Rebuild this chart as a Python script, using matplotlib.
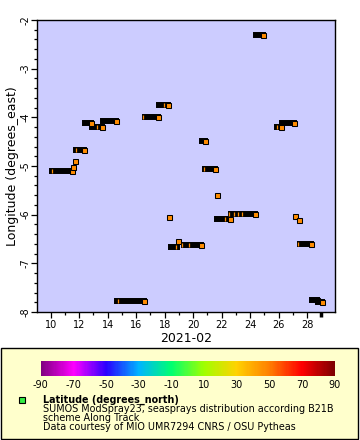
import numpy as np
import matplotlib
matplotlib.use('Agg')
import matplotlib.pyplot as plt
from matplotlib.colors import LinearSegmentedColormap, Normalize
from matplotlib.cm import ScalarMappable
from matplotlib.patches import Rectangle
from matplotlib.ticker import MultipleLocator

# track pieces: day of Feb 2021 (29 = 1 Mar), longitude, orange end marker shown
trk_start = [10.09, 11.57, 11.69, 11.78, 12.90, 12.41, 13.67, 14.66, 16.62, 17.61,
             18.31, 18.45, 18.96, 19.36, 20.63, 20.84, 21.66, 21.69, 22.66, 24.41,
             25.89, 26.24, 27.18, 27.42, 27.51, 28.35, 28.77]
trk_end = [11.50, 11.57, 11.69, 12.34, 13.60, 12.83, 14.59, 16.55, 17.53, 18.24,
           18.31, 18.90, 18.96, 20.55, 20.84, 21.54, 21.66, 22.60, 24.35, 24.91,
           26.17, 27.09, 27.18, 27.42, 28.28, 28.72, 29.05]
trk_lon = [-5.10, -5.02, -4.90, -4.67, -4.20, -4.12, -4.07, -7.77, -3.99, -3.75,
           -6.05, -6.66, -6.54, -6.62, -4.49, -5.06, -5.60, -6.09, -5.99, -2.31,
           -4.20, -4.12, -6.03, -6.11, -6.60, -7.75, -7.79]
trk_capped = [True, True, True, True, True, True, True, True, True, True,
              True, False, True, True, True, True, True, True, True, True,
              True, True, True, True, True, True, True]

# partly hidden orange markers inside the tracks
sliver_day = [10.07, 11.80, 13.27, 14.75, 16.50, 17.96, 18.82, 19.20, 19.73, 20.79,
              22.26, 22.54, 22.89, 23.17, 23.46, 25.91, 27.39]
sliver_lon = [-5.10, -4.67, -4.20, -7.77, -3.99, -3.75, -6.66, -6.62, -6.62, -5.06,
              -6.09, -5.99, -5.99, -5.99, -5.99, -4.20, -6.60]

cbar_ticks = [-90, -70, -50, -30, -10, 10, 30, 50, 70, 90]
cbar_colors = ['#7f0080', '#ff00ff', '#2a00ff', '#00b4ff', '#00ff70', '#a0ff00',
               '#ffd200', '#ff8000', '#ff0000', '#7f0000']
cbar_stops = [-90, -70, -50, -30, -10, 10, 30, 50, 70, 90]

orange = '#ff8c00'
W, H = 360, 440

fig = plt.figure(figsize=(3.6, 4.4), dpi=100)
ax = fig.add_axes([37 / W, 1 - 312 / H, 298 / W, 292 / H])
ax.set_facecolor('#ccccff')

for s, e, lon, cap in zip(trk_start, trk_end, trk_lon, trk_capped):
    if e > s:
        ax.plot([s, e], [lon, lon], color='black', lw=4.3, solid_capstyle='projecting')
    for d, l in zip(sliver_day, sliver_lon):
        if l == lon and s - 0.2 <= d <= e:
            ax.plot([d], [l], marker='|', ms=3.0, mew=0.9, color=orange, ls='none')
    if cap:
        ax.plot([e], [lon], marker='s', ms=3.6, mfc=orange, mec='black', mew=0.75, ls='none')

ax.set_xlim(9.04, 29.96)
ax.set_ylim(-8, -2)
ax.xaxis.set_major_locator(MultipleLocator(2))
ax.xaxis.set_minor_locator(MultipleLocator(1))
ax.yaxis.set_major_locator(MultipleLocator(1))
ax.yaxis.set_minor_locator(MultipleLocator(0.2))
ax.tick_params(which='major', length=4, width=0.9, labelsize=7, pad=1.5)
ax.tick_params(which='minor', length=2.2, width=0.9)
ax.set_xticks(np.arange(10, 29, 2))
ax.set_xticklabels([str(d) for d in range(10, 29, 2)])
ax.set_yticks(np.arange(-8, -1, 1))
ax.set_yticklabels([str(v) for v in range(-8, -1)], rotation=90, va='center')
ax.tick_params(axis='y', pad=0.5)
for sp in ax.spines.values():
    sp.set_linewidth(1.0)
# month boundary (1 Mar)
ax.plot([29, 29], [0, -0.018], color='black', lw=2.5, transform=ax.get_xaxis_transform(),
        clip_on=False, solid_capstyle='butt')

ax.set_xlabel('2021-02', fontsize=9, labelpad=2)
ax.set_ylabel('Longitude (degrees_east)', fontsize=9, labelpad=1)

# legend box
fig.patches.append(Rectangle((0.5 / W, 1 - 439 / H), 357.5 / W, 91 / H, transform=fig.transFigure,
                             facecolor='#ffffcc', edgecolor='black', lw=1.0, zorder=-5))

cmap = LinearSegmentedColormap.from_list(
    'rb', [((v + 90) / 180, c) for v, c in zip(cbar_stops, cbar_colors)])
cax = fig.add_axes([40.7 / W, 1 - 375.7 / H, 294 / W, 15 / H])
cax.set_zorder(3)
cb = fig.colorbar(ScalarMappable(Normalize(-90, 90), cmap), cax=cax, orientation='horizontal')
cb.outline.set_visible(False)
cb.set_ticks(cbar_ticks)
cb.set_ticklabels([str(t) for t in cbar_ticks])
cax.tick_params(length=0, labelsize=7, pad=3)

fig.patches.append(Rectangle((19 / W, 1 - 402.5 / H), 5.5 / W, 5.5 / H, transform=fig.transFigure,
                             facecolor='#33ee44', edgecolor='black', lw=0.8, zorder=2))
fig.text(43 / W, 1 - 399.5 / H, 'Latitude (degrees_north)', fontsize=6.9, fontweight='bold', va='center')
lines = ['SUMOS ModSpray23, seasprays distribution according B21B',
         'scheme Along Track',
         'Data courtesy of MIO UMR7294 CNRS / OSU Pytheas']
for i, t in enumerate(lines):
    fig.text(43 / W, 1 - (409 + 9 * i) / H, t, fontsize=6.9, va='center')

fig.savefig('out.png', dpi=100)
